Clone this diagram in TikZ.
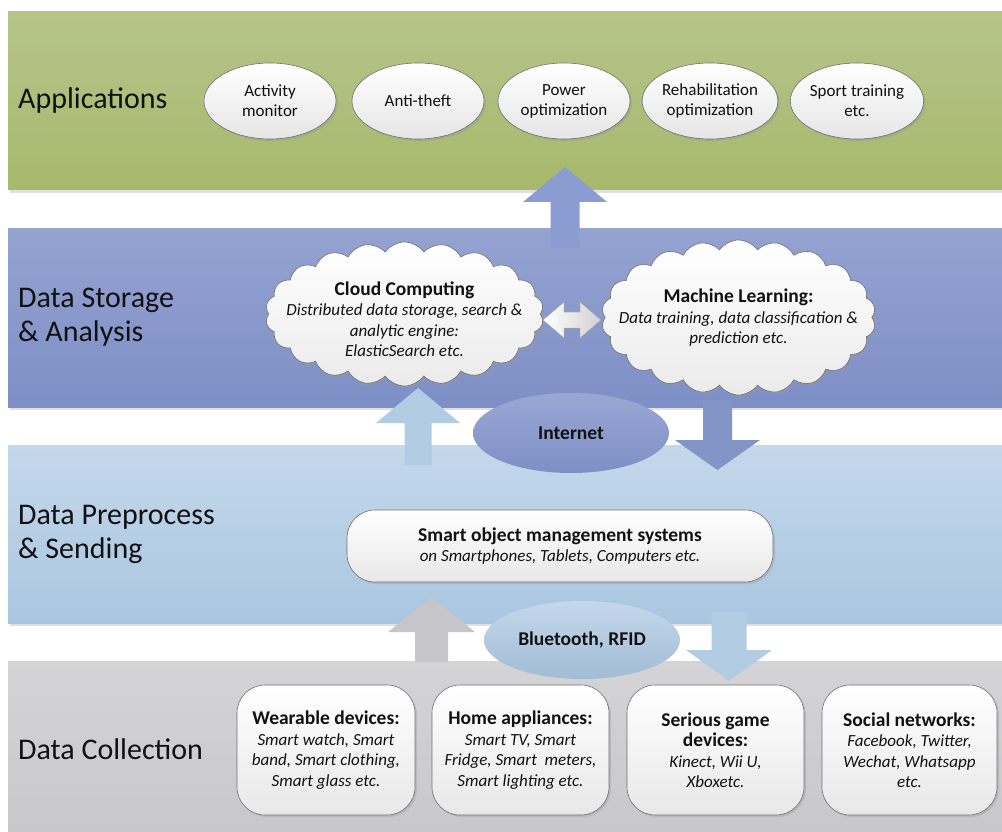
\documentclass[tikz,border=0pt]{standalone}
\usepackage{fontspec}
\setmainfont{Carlito}
\usetikzlibrary{shapes.geometric,shapes.symbols,shadows}
\definecolor{gTop}{HTML}{B6C48A}
\definecolor{gBot}{HTML}{A7B96C}
\definecolor{bTop}{HTML}{94A3D0}
\definecolor{bBot}{HTML}{7E8FC7}
\definecolor{lTop}{HTML}{C4D8EA}
\definecolor{lBot}{HTML}{AAC6E1}
\definecolor{cTop}{HTML}{D4D4D6}
\definecolor{cBot}{HTML}{C8C8CA}
\definecolor{arBlue}{HTML}{8A9CD1}
\definecolor{arLight}{HTML}{B2CCE4}
\definecolor{arGray}{HTML}{C6C6C8}
\definecolor{txt}{HTML}{111111}
\definecolor{edge}{HTML}{6F6F6F}
\newcommand\hdtxt[1]{{\bfseries\fontsize{19.5}{20.5}\selectfont #1}}
\begin{document}
\begin{tikzpicture}[x=1pt,y=-1pt,
  lbl/.style={anchor=west,align=left,text=txt,font=\fontsize{30}{34}\selectfont,inner sep=0pt},
  appell/.style={ellipse,draw=edge,line width=0.6pt,top color=white,bottom color=black!10,
    minimum width=132,minimum height=76,inner sep=0pt,align=center,text=txt,
    font=\fontsize{17}{20}\selectfont,
    drop shadow={shadow xshift=2pt,shadow yshift=-2pt,fill=black!40,opacity=0.45}},
  cloudn/.style={cloud,cloud puffs=22,cloud puff arc=110,aspect=2,draw=edge,line width=0.6pt,
    top color=white,bottom color=black!8,inner sep=0pt,
    drop shadow={shadow xshift=2pt,shadow yshift=-2pt,fill=black!40,opacity=0.4}},
  cloudtxt/.style={inner sep=0pt,align=center,text=txt,font=\fontsize{17}{20.5}\selectfont},
  rbox/.style={rectangle,rounded corners=28pt,draw=edge,line width=0.6pt,top color=white,
    bottom color=black!9,inner sep=0pt,align=center,text=txt,font=\fontsize{17}{20.5}\selectfont,
    drop shadow={shadow xshift=2pt,shadow yshift=-2pt,fill=black!40,opacity=0.35}},
  netell/.style={ellipse,minimum width=196,minimum height=80,inner sep=0pt,text=txt,
    font=\bfseries\fontsize{19.5}{21}\selectfont},
  bandshadow/.style={fill=black!12}
]
\useasboundingbox (0,0) rectangle (1002,832);
\fill[white] (0,0) rectangle (1002,832);

% bands
\fill[bandshadow] (10,190) rectangle (1002,193);
\fill[top color=gTop,bottom color=gBot] (8,12) rectangle (1002,190);
\fill[bandshadow] (10,407) rectangle (1002,410);
\fill[top color=bTop,bottom color=bBot] (8,228) rectangle (1002,407);
\fill[bandshadow] (10,623) rectangle (1002,626);
\fill[top color=lTop,bottom color=lBot] (8,445) rectangle (1002,623);
\fill[top color=cTop,bottom color=cBot] (8,661) rectangle (1002,832);

% layer labels
\node[lbl] (lapp) at (18,101) {Applications};
\node[lbl] (lsto) at (18,317) {Data Storage\\\& Analysis};
\node[lbl] (lpre) at (18,534) {Data Preprocess\\\& Sending};
\node[lbl] (lcol) at (18,749) {Data Collection};

% fat arrows
\fill[arBlue] (565,167) -- (607,202) -- (579.5,202) -- (579.5,248) -- (550.5,248) -- (550.5,202) -- (523,202) -- cycle;
\fill[arLight] (418,388) -- (460,423) -- (431.5,423) -- (431.5,465) -- (404.5,465) -- (404.5,423) -- (376,423) -- cycle;
\fill[arBlue!95!black] (717.5,470) -- (760,440) -- (732,440) -- (732,400) -- (703,400) -- (703,440) -- (675,440) -- cycle;
\fill[arGray] (431.5,597) -- (475,632) -- (448,632) -- (448,662) -- (415,662) -- (415,632) -- (388,632) -- cycle;
\fill[arLight] (729,681) -- (772,650) -- (746.5,650) -- (746.5,612) -- (711.5,612) -- (711.5,650) -- (686,650) -- cycle;

% applications
\node[appell] (a1) at (270,101) {Activity\\monitor};
\node[appell] (a2) at (418,101) {Anti-theft};
\node[appell] (a3) at (564,101) {Power\\optimization};
\node[appell] (a4) at (710,101) {Rehabilitation\\optimization};
\node[appell] (a5) at (857,101) {Sport training\\etc.};

% clouds
\node[cloudn,minimum width=278,minimum height=144] (cc) at (404.5,314) {};
\node[cloudtxt] (cct) at (404.5,319)
  {\hdtxt{Cloud Computing}\\\textit{Distributed data storage, search \&}\\\textit{analytic engine:}\\\textit{ElasticSearch etc.}};
\node[cloudn,minimum width=274,minimum height=155] (ml) at (738.5,317.5) {};
\node[cloudtxt] (mlt) at (738.5,318)
  {\hdtxt{Machine Learning:}\\\textit{Data training, data classification \&}\\\textit{prediction etc.}};

% double arrow between clouds
\filldraw[draw=black!30,line width=0.5pt,left color=white,right color=black!18]
  (543,320) -- (564,302) -- (564,312) -- (580,312) -- (580,302) -- (601,320)
  -- (580,338) -- (580,328) -- (564,328) -- (564,338) -- cycle;

% internet
\node[netell,top color=bTop!95!white,bottom color=bBot] (inet) at (571,433) {Internet};

% smart object management
\node[rbox,minimum width=426,minimum height=72] (som) at (560,546)
  {\hdtxt{Smart object management systems}\\\textit{on Smartphones, Tablets, Computers etc.}};

% bluetooth
\node[netell,minimum height=78,top color=lTop,bottom color=lBot!95!black] (bt) at (582,640) {Bluetooth, RFID};

% data sources
\node[rbox,minimum width=178,minimum height=130] (d1) at (326,750)
  {\hdtxt{Wearable devices:}\\\textit{Smart watch, Smart}\\\textit{band, Smart clothing,}\\\textit{Smart glass etc.}};
\node[rbox,minimum width=177,minimum height=130] (d2) at (520.5,750)
  {\hdtxt{Home appliances:}\\\textit{Smart TV, Smart}\\\textit{Fridge, Smart\ \ meters,}\\\textit{Smart lighting etc.}};
\node[rbox,minimum width=177,minimum height=130] (d3) at (715.5,750)
  {\hdtxt{Serious game}\\\hdtxt{devices:}\\\textit{Kinect, Wii U,}\\\textit{Xboxetc.}};
\node[rbox,minimum width=175,minimum height=130] (d4) at (909.5,750)
  {\hdtxt{Social networks:}\\\textit{Facebook, Twitter,}\\\textit{Wechat, Whatsapp}\\\textit{etc.}};
\end{tikzpicture}
\end{document}
